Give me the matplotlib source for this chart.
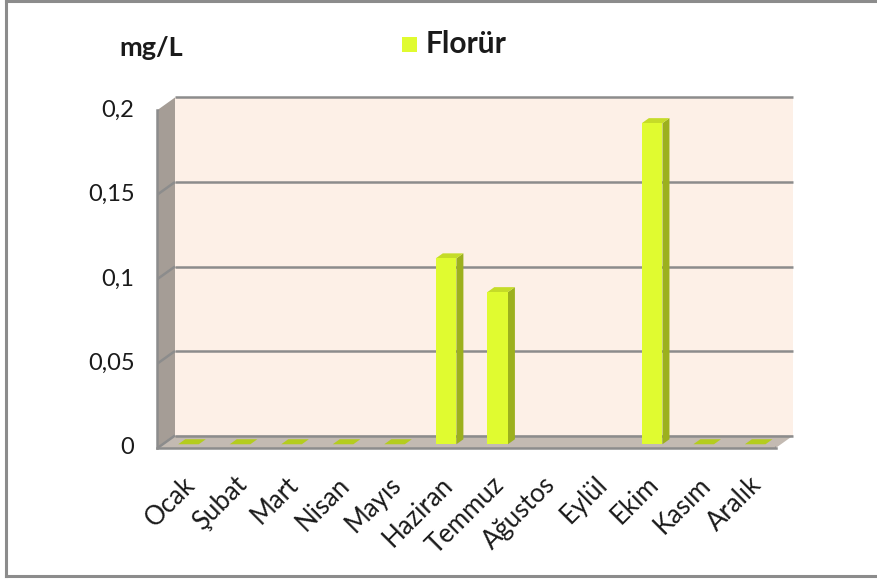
import numpy as np
import matplotlib
matplotlib.use("Agg")
import matplotlib.pyplot as plt
from matplotlib.patches import Polygon, Rectangle
from matplotlib.transforms import ScaledTranslation

plt.rcParams['font.family'] = ['Lato', 'DejaVu Sans']

months = ["Ocak", "Şubat", "Mart", "Nisan", "Mayıs", "Haziran", "Temmuz",
          "Ağustos", "Eylül", "Ekim", "Kasım", "Aralık"]
florur = [0, 0, 0, 0, 0, 0.11, 0.09, np.nan, np.nan, 0.19, 0, 0]
yticks = [0, 0.05, 0.1, 0.15, 0.2]
ytick_labels = ["0", "0,05", "0,1", "0,15", "0,2"]
series_name = "Florür"
unit_label = "mg/L"

DPI = 100
fig = plt.figure(figsize=(8.78, 5.80), dpi=DPI)
fig.patch.set_facecolor("white")

# outer border
for xs, ys in (([0.0072, 0.0072], [0.007, 0.998]),
               ([0.0072, 1.0], [0.998, 0.998]),
               ([0.0072, 1.0], [0.007, 0.007])):
    fig.add_artist(plt.Line2D(xs, ys, transform=fig.transFigure, color="#8c8c8c", lw=2.2))

# front plane axes
L, R = 157.5, 775.7
B, T = 448, 110
ax = fig.add_axes([L / 878, (580 - B) / 580, (R - L) / 878, (B - T) / 580])
ax.set_xlim(0, len(months))
ax.set_ylim(0, 0.2)
ax.axis("off")

DX, DY = 17.5 / DPI, 12.5 / DPI  # depth in inches (pixels at dpi 100)


def shifted(f):
    return ax.transData + ScaledTranslation(DX * f, DY * f, fig.dpi_scale_trans)


n = len(months)
ymax = 0.2
wall_col = "#fdf0e7"
side_col = "#a59d96"
floor_col = "#c3bab2"
edge_col = "#8c8c8c"

back = shifted(1.0)
front = ax.transData

# back wall
ax.add_patch(Rectangle((0, 0), n, ymax, transform=back, facecolor=wall_col,
                       edgecolor="none", zorder=1, clip_on=False))


def para(x0, y0, x1, y1, f0, f1, **kw):
    """polygon joining segment (x0,y0)-(x1,y1) at depth f0 and f1"""
    t0, t1 = shifted(f0), shifted(f1)
    pts = [t0.transform((x0, y0)), t0.transform((x1, y1)),
           t1.transform((x1, y1)), t1.transform((x0, y0))]
    p = Polygon(pts, closed=True, transform=None, clip_on=False, **kw)
    ax.add_artist(p)
    return p


def seg(p0, p1, z=3):
    ax.add_artist(plt.Line2D([p0[0], p1[0]], [p0[1], p1[1]], transform=None,
                             color=edge_col, lw=1.8, zorder=z, solid_capstyle="butt"))


# side wall and floor
para(0, 0, 0, ymax, 0, 1, facecolor=side_col, edgecolor="none", zorder=2)
para(0, 0, n, 0, 0, 1, facecolor=floor_col, edgecolor="none", zorder=2)

# gridlines on back wall and side wall
for yv in yticks:
    ax.plot([0, n], [yv, yv], transform=back, color=edge_col, lw=1.8, zorder=3,
            clip_on=False, solid_capstyle="butt")
    seg(front.transform((0, yv)), back.transform((0, yv)))
seg(front.transform((n, 0)), back.transform((n, 0)))

# front axes lines
ax.plot([0, 0], [0, ymax], transform=front, color=edge_col, lw=1.8, zorder=6, clip_on=False)
ax.plot([0, n], [0, 0], transform=front, color=edge_col, lw=1.8, zorder=6, clip_on=False)

# y ticks and labels
for yv, lab in zip(yticks, ytick_labels):
    p0 = front.transform((0, yv))
    seg((p0[0] - 8, p0[1]), p0, z=6)
    ax.text(0, yv, lab,
            transform=front + ScaledTranslation(-23 / DPI, 0, fig.dpi_scale_trans),
            ha="right", va="center", fontsize=17, color="#1a1a1a")
# x ticks
for i in range(n + 1):
    p0 = front.transform((i, 0))
    seg(p0, (p0[0], p0[1] - 9), z=6)

# category labels
for i, m in enumerate(months):
    ax.text(i + 0.5, 0, m,
            transform=front + ScaledTranslation(-1 / DPI, -24 / DPI, fig.dpi_scale_trans),
            rotation=45, rotation_mode="anchor", ha="right", va="top",
            fontsize=18.5, color="#1a1a1a")

# bars
bw = 0.4
f_front, f_back = 0.3, 0.7
c_front = "#e0fb30"
c_side = "#9cb01e"
c_top = "#c5dc28"
c_zero = "#b4cc1e"
for i, v in enumerate(florur):
    if np.isnan(v):
        continue
    x0, x1 = i + 0.5 - bw / 2, i + 0.5 + bw / 2
    if v == 0:
        para(x0, 0, x1, 0, f_front, f_back, facecolor=c_zero, edgecolor="none", zorder=7)
        continue
    para(x1, 0, x1, v, f_front, f_back, facecolor=c_side, edgecolor="none", zorder=7)
    para(x0, v, x1, v, f_front, f_back, facecolor=c_top, edgecolor="none", zorder=7)
    ax.add_patch(Rectangle((x0, 0), bw, v, transform=shifted(f_front), facecolor=c_front,
                           edgecolor="none", zorder=8, clip_on=False))

# unit label and legend
fig.text(119 / 878, 1 - 48 / 580, unit_label, fontsize=19.5, fontweight="bold",
         ha="left", va="center", color="#1a1a1a")
fig.add_artist(Rectangle((402 / 878, 1 - 52 / 580), 15 / 878, 15 / 580,
                         transform=fig.transFigure, facecolor=c_front, edgecolor="none"))
fig.text(426 / 878, 1 - 44 / 580, series_name, fontsize=21.5, fontweight="bold",
         ha="left", va="center", color="#1a1a1a")

fig.savefig("out.png", dpi=DPI)
